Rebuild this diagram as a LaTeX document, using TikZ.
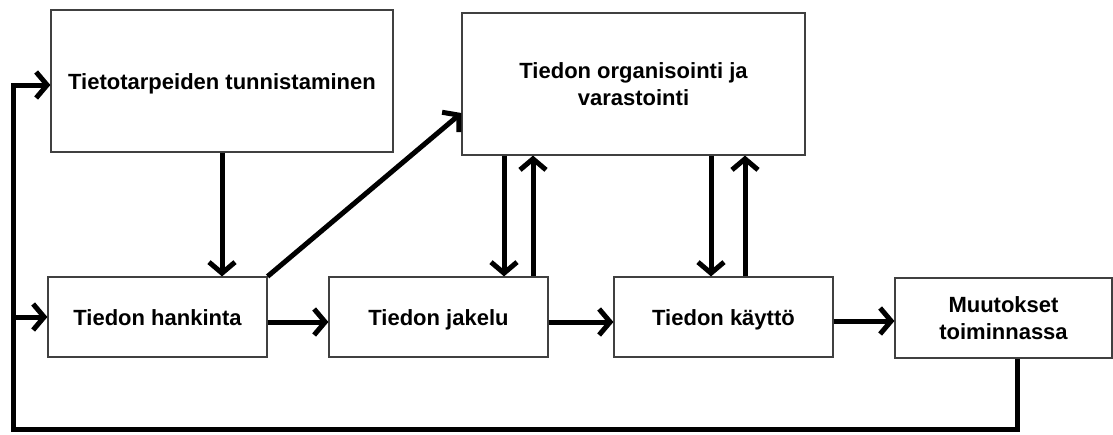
\documentclass[tikz,border=0pt]{standalone}
\usepackage{fontspec}
\setmainfont{Liberation Sans}
\usetikzlibrary{arrows.meta}
\tikzset{
    laatikko/.style={draw=black!75, line width=1.2pt, fill=white, inner sep=0pt,
        align=center, font=\fontsize{22}{27}\selectfont\bfseries},
    yksirivi/.style={laatikko, text height=16pt, text depth=0pt},
    nuoli/.style={line width=5pt, -{Straight Barb[length=11pt, width=26pt, line width=5pt]}},
}

\begin{document}
\begin{tikzpicture}[x=1pt, y=-1pt]
\useasboundingbox (0,0) rectangle (1113,434);

\node[yksirivi, minimum width=342pt, minimum height=142pt] (tunnistaminen) at (222,81) {Tietotarpeiden tunnistaminen};
\node[laatikko, minimum width=343pt, minimum height=142pt] (varastointi) at (633.5,84) {Tiedon organisointi ja\\varastointi};
\node[yksirivi, minimum width=219pt, minimum height=80pt] (hankinta) at (157.5,317) {Tiedon hankinta};
\node[yksirivi, minimum width=219pt, minimum height=80pt] (jakelu) at (438.5,317) {Tiedon jakelu};
\node[yksirivi, minimum width=219pt, minimum height=80pt] (kaytto) at (723.5,317) {Tiedon käyttö};
\node[laatikko, minimum width=217pt, minimum height=80pt] (muutokset) at (1003.5,318) {Muutokset\\toiminnassa};

\coordinate (kulma) at (13,429);

% paavirta
\draw[nuoli] (tunnistaminen.south) -- (tunnistaminen.south |- hankinta.north);
\draw[nuoli] (hankinta.north east) -- ([yshift=-29pt]varastointi.west);
\draw[nuoli] ([yshift=-5pt]hankinta.east) -- ([yshift=-5pt]jakelu.west);
\draw[nuoli] ([yshift=-5pt]jakelu.east) -- ([yshift=-5pt]kaytto.west);
\draw[nuoli] ([yshift=-4pt]kaytto.east) -- ([yshift=-4pt]kaytto.east -| muutokset.west);

% varastoon ja takaisin
\draw[nuoli] (varastointi.south -| 504,0) -- (jakelu.north -| 504,0);
\draw[nuoli] (jakelu.north -| 533,0) -- (varastointi.south -| 533,0);
\draw[nuoli] (varastointi.south -| 711,0) -- (kaytto.north -| 711,0);
\draw[nuoli] (kaytto.north -| 745,0) -- (varastointi.south -| 745,0);

% palaute
\draw[nuoli] ([xshift=13.5pt]muutokset.south) |- (kulma) |- ([yshift=-4pt]tunnistaminen.west);
\draw[nuoli] (kulma |- hankinta.west) -- (hankinta.west);
\end{tikzpicture}
\end{document}
